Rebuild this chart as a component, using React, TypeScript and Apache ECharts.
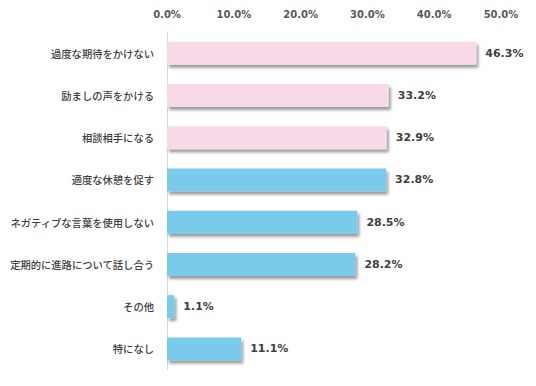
import React, { useEffect, useRef } from "react";
import * as echarts from "echarts";

const categories = [
  "過度な期待をかけない",
  "励ましの声をかける",
  "相談相手になる",
  "適度な休憩を促す",
  "ネガティブな言葉を使用しない",
  "定期的に進路について話し合う",
  "その他",
  "特になし",
];
const values = [46.3, 33.2, 32.9, 32.8, 28.5, 28.2, 1.1, 11.1];
const groups = ["pink", "pink", "pink", "blue", "blue", "blue", "blue", "blue"];
const groupColors: Record<string, string> = { pink: "#f8d9e8", blue: "#7acaeb" };

export default function App() {
  const ref = useRef<HTMLDivElement>(null);
  useEffect(() => {
    if (!ref.current) return;
    const chart = echarts.init(ref.current, null, { renderer: "svg" });
    chart.setOption({
      animation: false,
      backgroundColor: "#ffffff",
      grid: { left: 167, top: 32, width: 334, bottom: 16 },
      xAxis: {
        type: "value",
        position: "top",
        min: 0,
        max: 50,
        interval: 10,
        axisLine: { show: false },
        axisTick: { show: false },
        splitLine: { show: false },
        axisLabel: {
          formatter: (v: number) => v.toFixed(1) + "%",
          color: "#595959",
          fontFamily: "'DejaVu Sans', sans-serif",
          fontWeight: "bold",
          fontSize: 10,
          margin: 13,
        },
      },
      yAxis: {
        type: "category",
        inverse: true,
        data: categories,
        axisLine: { show: true, lineStyle: { color: "#d9d9d9", width: 1 } },
        axisTick: { show: false },
        axisLabel: {
          color: "#404040",
          fontFamily: "'Noto Sans CJK JP', sans-serif",
          fontWeight: 500,
          fontSize: 10.3,
          margin: 13,
        },
      },
      series: [
        {
          type: "bar",
          barWidth: 23,
          data: values.map((v, i) => ({
            value: v,
            itemStyle: { color: groupColors[groups[i]] },
          })),
          itemStyle: {
            shadowColor: "rgba(0,0,0,0.4)",
            shadowBlur: 3,
            shadowOffsetX: 2,
            shadowOffsetY: 3,
          },
          label: {
            show: true,
            position: "right",
            distance: 9,
            formatter: (p: any) => p.value.toFixed(1) + "%",
            color: "#404040",
            fontFamily: "'DejaVu Sans', sans-serif",
            fontWeight: "bold",
            fontSize: 11,
          },
        },
      ],
    });
    return () => chart.dispose();
  }, []);
  return <div ref={ref} style={{ width: 536, height: 386, margin: -8 }} />;
}
